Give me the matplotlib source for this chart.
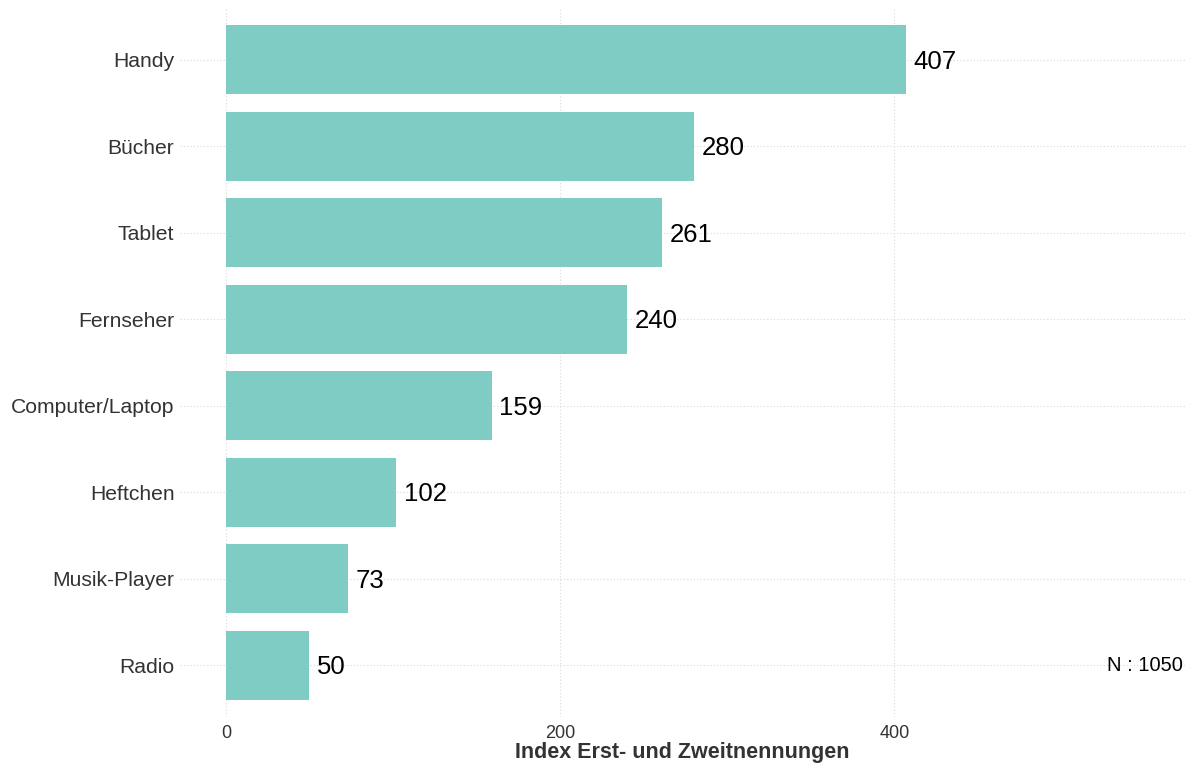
import matplotlib
matplotlib.use("Agg")
import matplotlib.pyplot as plt

# data (bottom to top)
categories = ["Radio", "Musik-Player", "Heftchen", "Computer/Laptop",
              "Fernseher", "Tablet", "Bücher", "Handy"]
values = [50, 73, 102, 159, 240, 261, 280, 407]
x_ticks = [0, 200, 400]
n_label = "N : 1050"

bar_color = "#7ECCC4"
grid_color = "#d9d9d9"

plt.rcParams['font.family'] = ['Liberation Sans', 'DejaVu Sans']

fig = plt.figure(figsize=(11.89, 7.65), dpi=100)
# axes box in figure pixels: left 180, right 1185, top 8, bottom 717
ax = fig.add_axes([180 / 1189, 1 - 717 / 765, 1005 / 1189, 709 / 765])

pos = list(range(1, len(categories) + 1))
ax.barh(pos, values, height=0.8, color=bar_color, zorder=2)

for p, v in zip(pos, values):
    ax.annotate(str(v), (v, p), xytext=(5.5, -1.5), textcoords="offset points",
                ha="left", va="center", fontsize=18.5, color="black")

ax.set_xlim(-27.5, 574)
ax.set_ylim(0.4, len(categories) + 0.6)
ax.set_xticks(x_ticks)
ax.set_yticks(pos)
ax.set_yticklabels(categories)

ax.grid(True, color=grid_color, linestyle=(0, (1, 2)), linewidth=0.8, zorder=0)
ax.set_axisbelow(True)
for s in ax.spines.values():
    s.set_visible(False)
ax.tick_params(axis="both", length=0, colors="#333333")
ax.tick_params(axis="y", pad=4, labelsize=15.2)
ax.tick_params(axis="x", pad=6, labelsize=13)

ax.set_xlabel("Index Erst- und Zweitnennungen", fontsize=15.5, fontweight="bold",
              color="#333333", labelpad=0)

ax.text(0.998, 1, n_label, transform=ax.get_yaxis_transform(), ha="right",
        va="center", fontsize=14.5, color="black")

fig.savefig("out.png", dpi=100)
